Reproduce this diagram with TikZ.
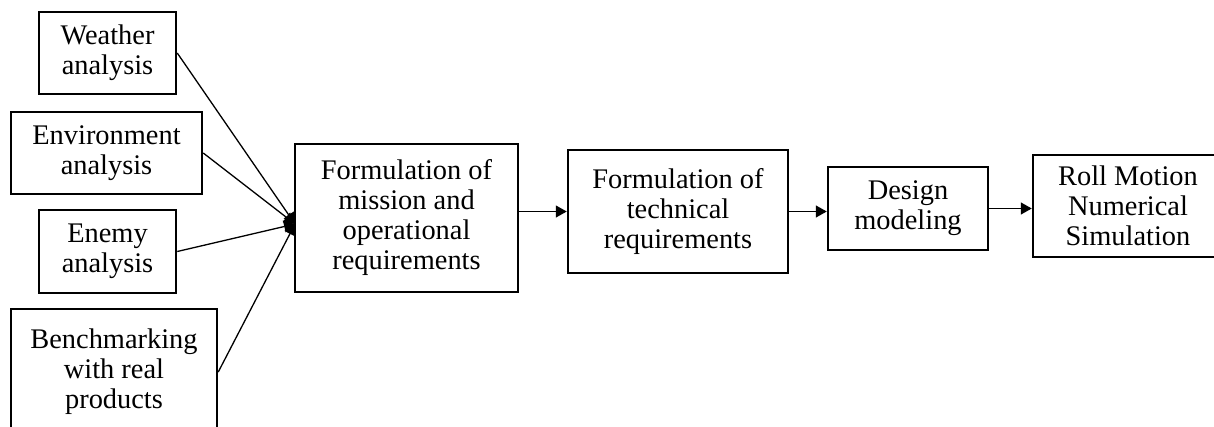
\documentclass[tikz,border=0pt]{standalone}
\usepackage{fontspec}
\setmainfont{Liberation Serif}
\usetikzlibrary{arrows.meta}
\begin{document}
\begin{tikzpicture}[x=1pt,y=-1pt,
  box/.style={draw, line width=2.5pt, inner sep=0pt, align=center,
    font=\fontsize{28.4pt}{30pt}\selectfont},
  arr/.style={line width=1.3pt, -{Triangle[length=11pt,width=12pt]}}]
\clip (0,0) rectangle (1214,426);
\fill[white] (0,0) rectangle (1214,426);
\node[box, minimum width=137pt, minimum height=82pt] (weather) at (107.5,53) {Weather\\analysis};
\node[box, minimum width=191pt, minimum height=82pt] (env) at (106.5,153) {Environment\\analysis};
\node[box, minimum width=137pt, minimum height=83pt] (enemy) at (107.5,251.5) {Enemy\\analysis};
\node[box, minimum width=206pt, minimum height=126pt] (bench) at (114,372) {Benchmarking\\with real\\products};
\node[box, minimum width=223pt, minimum height=148pt] (form) at (406.5,218) {Formulation of\\mission and\\operational\\requirements};
\node[box, minimum width=220pt, minimum height=123pt] (tech) at (678,211.5) {Formulation of\\technical\\requirements};
\node[box, minimum width=160pt, minimum height=83pt] (design) at (908,208.5) {Design\\modeling};
\node[box, minimum width=190pt, minimum height=102pt] (roll) at (1128,206) {Roll Motion\\Numerical\\Simulation};
\coordinate (hub) at (295,224);
\draw[arr] (weather.east) -- (hub);
\draw[arr] (env.east) -- (hub);
\draw[arr] (enemy.east) -- (hub);
\draw[arr] (bench.east) -- (hub);
\draw[arr] (form.east |- tech.west) -- (tech.west);
\draw[arr] (tech.east) -- (tech.east -| design.west);
\draw[arr] (design.east) -- (design.east -| roll.west);
\end{tikzpicture}
\end{document}
